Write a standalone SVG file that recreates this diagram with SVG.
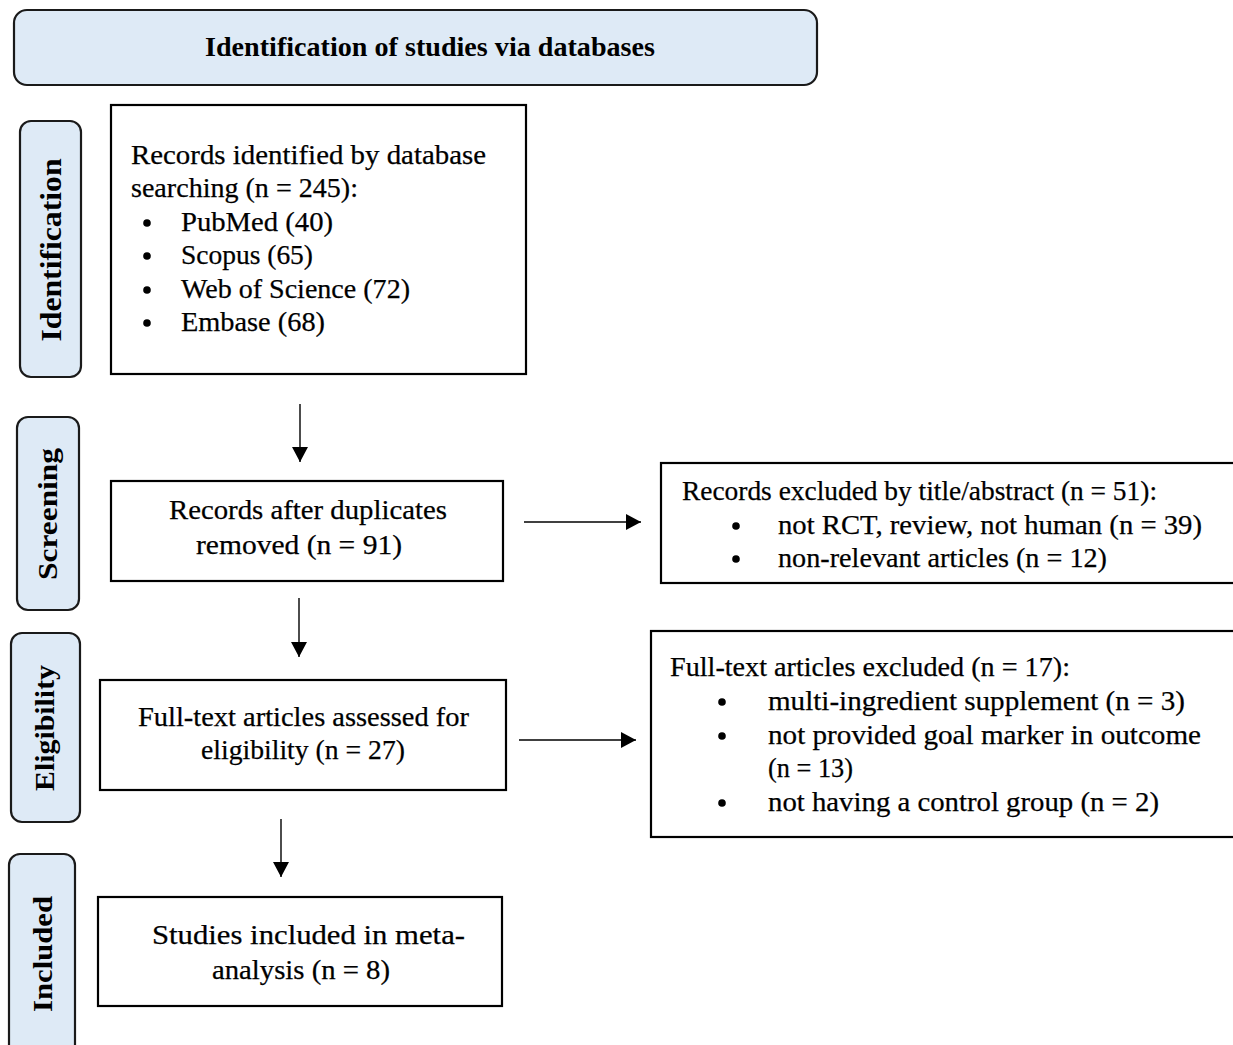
<svg xmlns="http://www.w3.org/2000/svg" width="1233" height="1045" viewBox="0 0 1233 1045">
<style>
.lbl{fill:#DEEAF6;stroke:#1a1a1a;stroke-width:2.2}
.box{fill:#fff;stroke:#000;stroke-width:2.2}
.t{font-family:"Liberation Serif","Times New Roman",serif;font-size:28px;fill:#000;stroke:#000;stroke-width:0.25}
.dot{fill:#000}
.b{font-family:"Liberation Serif","Times New Roman",serif;font-size:28px;font-weight:bold;fill:#000}
.c{text-anchor:middle}
.conn line{stroke:#000;stroke-width:1.4;fill:none}
</style>
<defs>
<marker id="ah" markerUnits="userSpaceOnUse" markerWidth="16" markerHeight="16" viewBox="0 0 15 16" refX="15" refY="8" orient="auto">
<path d="M0,0 L15,8 L0,16 Z" fill="#000"/>
</marker>
</defs>
<rect width="1233" height="1045" fill="#fff"/>

<g id="title">
<rect class="lbl" x="14" y="10" width="803" height="75" rx="13"/>
<text class="b" x="205" y="56" textLength="450" lengthAdjust="spacingAndGlyphs">Identification of studies via databases</text>
</g>

<g id="label-identification">
<rect class="lbl" x="20" y="121" width="61" height="256" rx="11"/>
<text class="b c" transform="translate(61,250) rotate(-90)" style="font-size:29px" textLength="183" lengthAdjust="spacingAndGlyphs">Identification</text>
</g>
<g id="label-screening">
<rect class="lbl" x="17" y="417" width="62" height="193" rx="11"/>
<text class="b c" transform="translate(57,514) rotate(-90)" textLength="132" lengthAdjust="spacingAndGlyphs">Screening</text>
</g>
<g id="label-eligibility">
<rect class="lbl" x="11" y="633" width="69" height="189" rx="11"/>
<text class="b c" transform="translate(54,728) rotate(-90)" textLength="126" lengthAdjust="spacingAndGlyphs">Eligibility</text>
</g>
<g id="label-included">
<rect class="lbl" x="9" y="854" width="66" height="210" rx="11"/>
<text class="b c" transform="translate(52,954) rotate(-90)" textLength="116" lengthAdjust="spacingAndGlyphs">Included</text>
</g>

<g id="records-identified">
<rect class="box" x="111" y="105" width="415" height="269"/>
<text class="t" x="131" y="164" textLength="355" lengthAdjust="spacingAndGlyphs">Records identified by database</text>
<text class="t" x="131" y="197" textLength="227" lengthAdjust="spacingAndGlyphs">searching (n = 245):</text>
<circle class="dot" cx="147" cy="223" r="3.8"/>
<text class="t" x="181" y="231" textLength="152" lengthAdjust="spacingAndGlyphs">PubMed (40)</text>
<circle class="dot" cx="147" cy="256" r="3.8"/>
<text class="t" x="181" y="264" textLength="132" lengthAdjust="spacingAndGlyphs">Scopus (65)</text>
<circle class="dot" cx="147" cy="290" r="3.8"/>
<text class="t" x="181" y="298" textLength="229" lengthAdjust="spacingAndGlyphs">Web of Science (72)</text>
<circle class="dot" cx="147" cy="323" r="3.8"/>
<text class="t" x="181" y="331" textLength="144" lengthAdjust="spacingAndGlyphs">Embase (68)</text>
</g>

<g id="records-after-duplicates">
<rect class="box" x="111" y="481" width="392" height="100"/>
<text class="t" x="169" y="519" textLength="278" lengthAdjust="spacingAndGlyphs">Records after duplicates</text>
<text class="t" x="196" y="554" textLength="206" lengthAdjust="spacingAndGlyphs">removed (n = 91)</text>
</g>

<g id="records-excluded">
<rect class="box" x="661" y="463" width="600" height="120"/>
<text class="t" x="682" y="500" textLength="475" lengthAdjust="spacingAndGlyphs">Records excluded by title/abstract (n = 51):</text>
<circle class="dot" cx="736" cy="526" r="3.8"/>
<text class="t" x="778" y="534" textLength="424" lengthAdjust="spacingAndGlyphs">not RCT, review, not human (n = 39)</text>
<circle class="dot" cx="736" cy="559" r="3.8"/>
<text class="t" x="778" y="567" textLength="329" lengthAdjust="spacingAndGlyphs">non-relevant articles (n = 12)</text>
</g>

<g id="full-text-assessed">
<rect class="box" x="100" y="680" width="406" height="110"/>
<text class="t" x="138" y="726" textLength="331" lengthAdjust="spacingAndGlyphs">Full-text articles assessed for</text>
<text class="t" x="201" y="759" textLength="204" lengthAdjust="spacingAndGlyphs">eligibility (n = 27)</text>
</g>

<g id="full-text-excluded">
<rect class="box" x="651" y="631" width="610" height="206"/>
<text class="t" x="670" y="676" textLength="400" lengthAdjust="spacingAndGlyphs">Full-text articles excluded (n = 17):</text>
<circle class="dot" cx="722" cy="702" r="3.8"/>
<text class="t" x="768" y="710" textLength="417" lengthAdjust="spacingAndGlyphs">multi-ingredient supplement (n = 3)</text>
<circle class="dot" cx="722" cy="736" r="3.8"/>
<text class="t" x="768" y="744" textLength="433" lengthAdjust="spacingAndGlyphs">not provided goal marker in outcome</text>
<text class="t" x="768" y="777" textLength="85" lengthAdjust="spacingAndGlyphs">(n = 13)</text>
<circle class="dot" cx="722" cy="803" r="3.8"/>
<text class="t" x="768" y="811" textLength="391" lengthAdjust="spacingAndGlyphs">not having a control group (n = 2)</text>
</g>

<g id="studies-included">
<rect class="box" x="98" y="897" width="404" height="109"/>
<text class="t" x="152" y="944" textLength="313" lengthAdjust="spacingAndGlyphs">Studies included in meta-</text>
<text class="t" x="212" y="979" textLength="178" lengthAdjust="spacingAndGlyphs">analysis (n = 8)</text>
</g>

<g id="connectors" class="conn">
<line x1="300" y1="404" x2="300" y2="462" marker-end="url(#ah)"/>
<line x1="299" y1="598" x2="299" y2="657" marker-end="url(#ah)"/>
<line x1="281" y1="819" x2="281" y2="877" marker-end="url(#ah)"/>
<line x1="524" y1="522" x2="641" y2="522" marker-end="url(#ah)"/>
<line x1="519" y1="740" x2="636" y2="740" marker-end="url(#ah)"/>
</g>
</svg>
